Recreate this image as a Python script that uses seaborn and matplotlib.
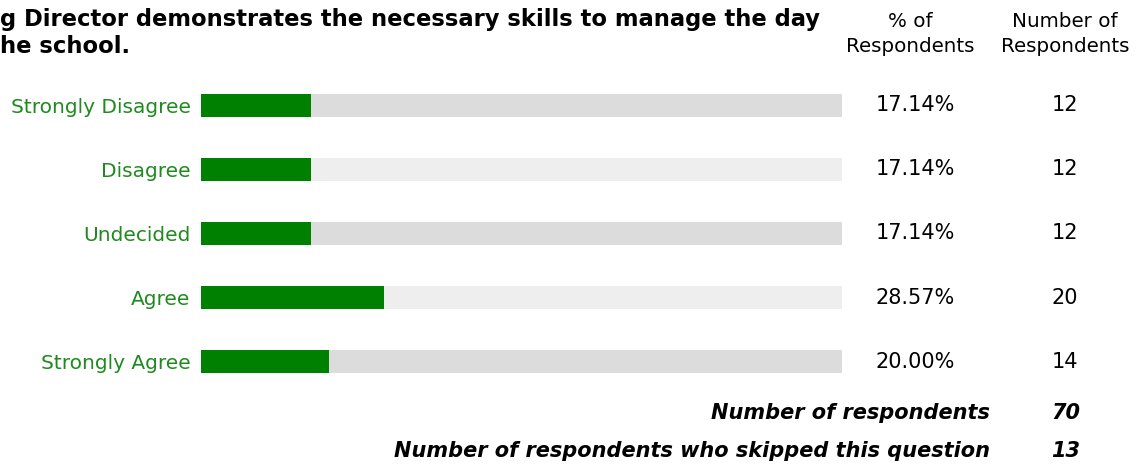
import seaborn as sns
import matplotlib.pyplot as plt
import pandas as pd

answers = ['Strongly Disagree', 'Disagree', 'Undecided', 'Agree', 'Strongly Agree']
percents = [17.14, 17.14, 17.14, 28.57, 20.00]
counts = [12, 12, 12, 20, 14]
total_respondents = 70
skipped = 13

title_lines = 'g Director demonstrates the necessary skills to manage the day\nhe school.'

sns.set_style('white')
plt.rcParams['font.family'] = ['DejaVu Sans']
plt.rcParams['text.color'] = 'black'

green = '#008000'
label_green = '#1f8a1f'
track_colors = ['#dcdcdc', '#eeeeee', '#dcdcdc', '#eeeeee', '#dcdcdc']

df = pd.DataFrame({'answer': answers, 'pct': percents, 'count': counts, 'full': [100] * len(answers)})

W, H = 1148, 466
fig = plt.figure(figsize=(W / 100, H / 100), dpi=100)
ax = fig.add_axes([201 / W, (H - 394) / H, 641 / W, 321 / H])

# grey tracks, then the green bars on top
sns.barplot(data=df, x='full', y='answer', hue='answer', palette=track_colors,
            legend=False, width=0.36, ax=ax, saturation=1, linewidth=0)
sns.barplot(data=df, x='pct', y='answer', color=green, width=0.36, ax=ax, saturation=1, linewidth=0)

ax.set_xlim(0, 100)
ax.set_xlabel('')
ax.set_ylabel('')
ax.set_xticks([])
sns.despine(ax=ax, left=True, bottom=True)
ax.tick_params(axis='y', length=0, pad=7.5, labelsize=14.5, labelcolor=label_green)

for i, row in df.iterrows():
    ax.text(111.4, i, f"{row['pct']:.2f}%", ha='center', va='center', fontsize=15, clip_on=False)
    ax.text(134.8, i, str(row['count']), ha='center', va='center', fontsize=15, clip_on=False)

fig.text(0, 1 - 33 / H, title_lines, ha='left', va='center', fontsize=16.3, fontweight='bold',
         linespacing=1.2)
fig.text(910 / W, 1 - 34 / H, '% of\nRespondents', ha='center', va='center', fontsize=14.3,
         linespacing=1.4)
fig.text(1065 / W, 1 - 34 / H, 'Number of\nRespondents', ha='center', va='center', fontsize=14.3,
         linespacing=1.4)

foot = dict(fontsize=15, fontweight='bold', fontstyle='italic', va='center')
fig.text(990 / W, 1 - 413 / H, 'Number of respondents', ha='right', **foot)
fig.text(1080 / W, 1 - 413 / H, str(total_respondents), ha='right', **foot)
fig.text(990 / W, 1 - 451 / H, 'Number of respondents who skipped this question', ha='right', **foot)
fig.text(1080 / W, 1 - 451 / H, str(skipped), ha='right', **foot)

fig.savefig('out.png', dpi=100)
